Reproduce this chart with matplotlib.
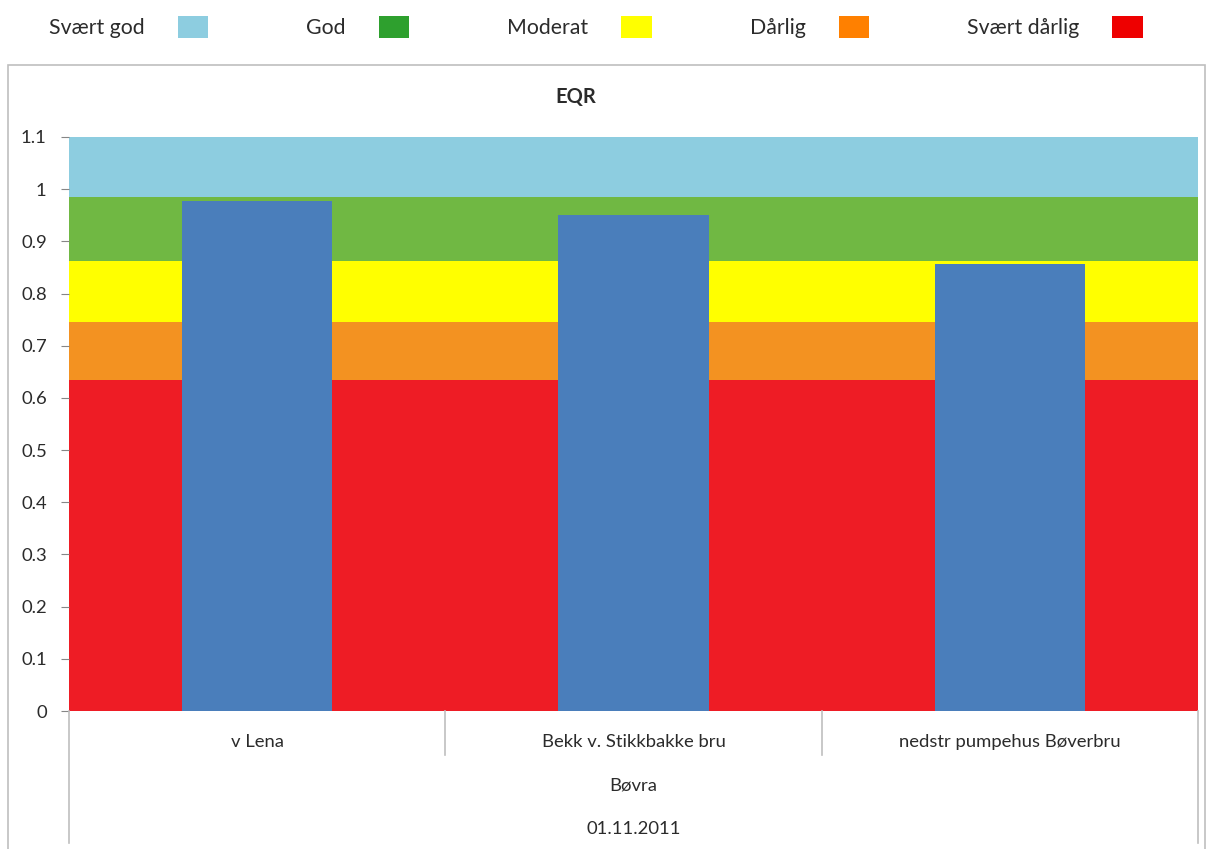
import matplotlib
matplotlib.use('Agg')
import matplotlib.pyplot as plt
from matplotlib.patches import Patch, Rectangle
import numpy as np

plt.rcParams['font.family'] = ['Lato', 'DejaVu Sans']

# class boundaries (EQR) and colours, lowest first
class_names = ['Svært dårlig', 'Dårlig', 'Moderat', 'God', 'Svært god']
class_edges = [0.0, 0.635, 0.745, 0.863, 0.985, 1.1]
band_colors = ['#EE1C25', '#F39221', '#FFFF00', '#70B843', '#8DCDE0']
legend_colors = ['#EE0000', '#FF8000', '#FFFF00', '#2EA02E', '#8DCDE0']

stations = ['v Lena', 'Bekk v. Stikkbakke bru', 'nedstr pumpehus Bøverbru']
eqr_values = [0.977, 0.950, 0.857]
river = 'Bøvra'
sample_date = '01.11.2011'

TXT = '#2B2B2B'
GRID = '#BFBFBF'
FS = 13.3

fig = plt.figure(figsize=(12.12, 8.49), dpi=100)
ax = fig.add_axes([69 / 1212, 1 - 711 / 849, (1198 - 69) / 1212, (711 - 137) / 849])

# colour bands behind the bars
for lo, hi, c in zip(class_edges[:-1], class_edges[1:], band_colors):
    ax.axhspan(lo, hi, color=c, lw=0, zorder=0)

x = np.arange(len(stations))
ax.bar(x, eqr_values, width=0.4, color='#4A7EBB', zorder=2)

ax.set_xlim(-0.5, len(stations) - 0.5)
ax.set_ylim(0, 1.1)
ax.set_yticks(np.arange(0, 1.11, 0.1))
ax.set_yticklabels(['0', '0.1', '0.2', '0.3', '0.4', '0.5', '0.6', '0.7', '0.8', '0.9', '1', '1.1'])
ax.tick_params(axis='y', length=6, color='#868686', pad=10, labelsize=FS, labelcolor=TXT)
ax.set_xticks([])
for s in ax.spines.values():
    s.set_visible(False)

# multi-level category axis below the plot
trans = ax.get_xaxis_transform()
for i, name in enumerate(stations):
    ax.text(i, -0.054, name, transform=trans, ha='center', va='center', fontsize=FS, color=TXT)
for b in x[1:] - 0.5:
    ax.plot([b, b], [0, -0.077], transform=trans, color=GRID, lw=1.2, clip_on=False)
for b in [x[0] - 0.5, x[-1] + 0.5]:
    ax.plot([b, b], [0, -0.23], transform=trans, color=GRID, lw=1.2, clip_on=False)
mid = (len(stations) - 1) / 2
ax.text(mid, -0.129, river, transform=trans, ha='center', va='center', fontsize=FS, color=TXT)
ax.text(mid, -0.206, sample_date, transform=trans, ha='center', va='center', fontsize=FS, color=TXT)

# chart frame and title
fig.add_artist(Rectangle((8 / 1212, -0.01), (1205 - 8) / 1212, 1 - 65 / 849 + 0.01,
                         transform=fig.transFigure, fill=False, edgecolor=GRID, lw=1.2))
fig.text(576 / 1212, 1 - 97 / 849, 'EQR', ha='center', va='center', fontsize=14.5,
         fontweight='bold', color=TXT)

# legend above the frame, best class first
handles = [Patch(facecolor=c, edgecolor='none') for c in legend_colors[::-1]]
fig.legend(handles, class_names[::-1], loc='center left', bbox_to_anchor=(49 / 1212, 1 - 27 / 849),
           ncol=5, frameon=False, markerfirst=False, fontsize=15.3, labelcolor=TXT,
           handlelength=1.45, handleheight=1.2, handletextpad=1.55, columnspacing=4.6,
           borderpad=0, borderaxespad=0)

plt.savefig('out.png', dpi=100)
